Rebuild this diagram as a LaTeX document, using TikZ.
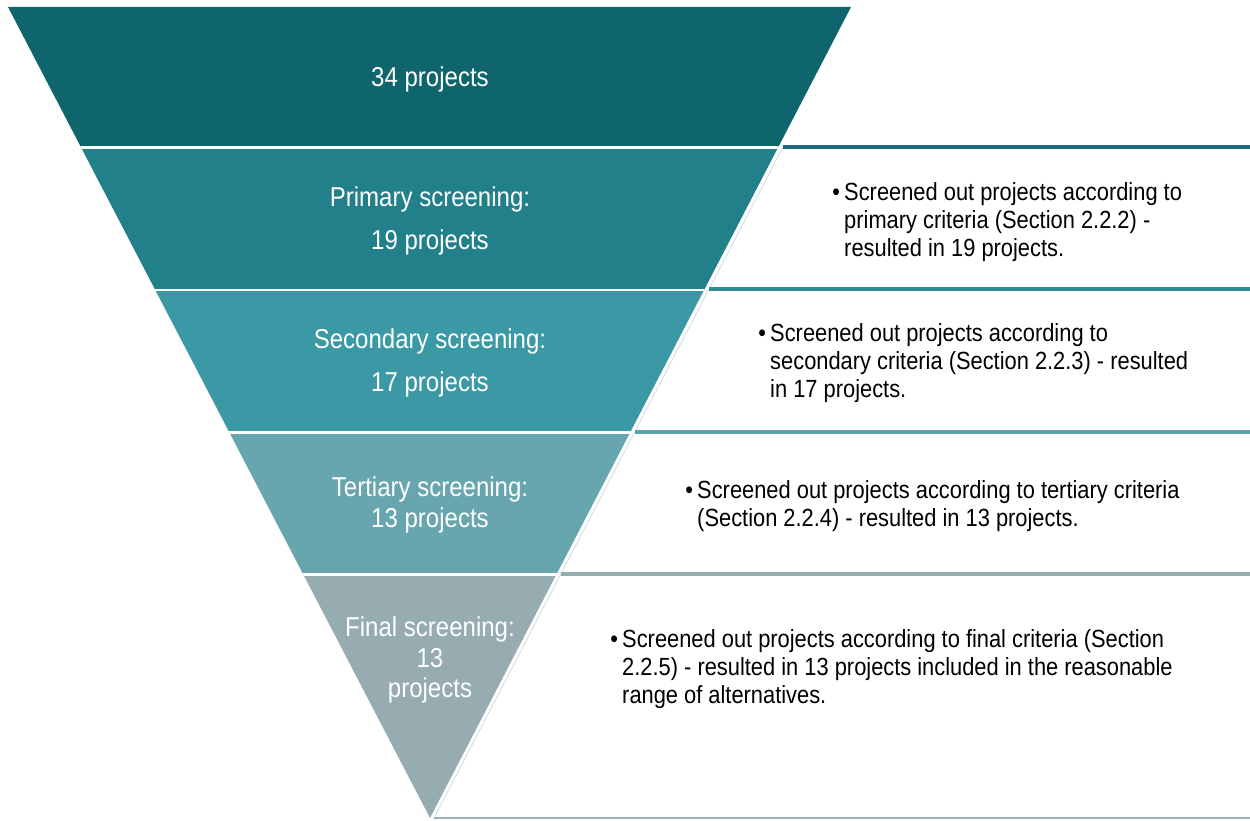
\documentclass[tikz,border=0pt]{standalone}
\usepackage{fontspec}
\setmainfont{Liberation Sans}
\newfontfamily\nf{Liberation Sans}[FakeStretch=0.88]
\definecolor{bandA}{HTML}{0E666C}
\definecolor{bandB}{HTML}{21808A}
\definecolor{bandC}{HTML}{3B99A5}
\definecolor{bandD}{HTML}{67A6AE}
\definecolor{bandE}{HTML}{96ACB0}
\definecolor{lineA}{HTML}{1C6E76}
\definecolor{lineB}{HTML}{2E8C96}
\definecolor{lineC}{HTML}{5CA3AC}
\definecolor{lineD}{HTML}{92AEB2}
\definecolor{lineE}{HTML}{9AB1B5}
\definecolor{edgegray}{HTML}{D5DEE0}
\tikzset{
  lefttext/.style={text=white, align=center, inner sep=0pt, font=\nf\fontsize{23.3}{30}\selectfont},
  righttext/.style={text=black, align=left, inner sep=0pt, anchor=west, font=\nf\fontsize{21.2}{23.9}\selectfont},
  sepline/.style={line width=2.6pt},
}
\newcommand{\bul}{\llap{•\hspace{3.5pt}}}
\begin{document}
\begin{tikzpicture}[x=0.03cm,y=-0.03cm]
\useasboundingbox (0,0) rectangle (1250,821);
% funnel
\coordinate (tl) at (8,7);
\coordinate (tr) at (851,7);
\coordinate (apex) at (430,818);
\begin{scope}
  \clip (tl) -- (tr) -- (apex) -- cycle;
  \fill[bandA] (0,0) rectangle (1250,147.5);
  \fill[bandB] (0,147.5) rectangle (1250,290);
  \fill[bandC] (0,290) rectangle (1250,432.5);
  \fill[bandD] (0,432.5) rectangle (1250,574.5);
  \fill[bandE] (0,574.5) rectangle (1250,821);
  \foreach \yy in {147.5,290,432.5,574.5}
    \draw[white, line width=2.4pt] (0,\yy) -- (1250,\yy);
\end{scope}
% right side frames
\coordinate (e1) at (783,147);
\coordinate (e2) at (709,289);
\coordinate (e3) at (635,432);
\coordinate (e4) at (561,574);
\coordinate (e5) at (434,818);
\coordinate (r1) at (1250,147);
\coordinate (r2) at (1250,289);
\coordinate (r3) at (1250,432);
\coordinate (r4) at (1250,574);
\coordinate (r5) at (1250,818);
\draw[edgegray, line width=0.8pt] (e1) -- (e5);
\draw[sepline, lineA] (e1) -- (r1);
\draw[sepline, lineB] (e2) -- (r2);
\draw[sepline, lineC] (e3) -- (r3);
\draw[sepline, lineD] (e4) -- (r4);
\draw[lineE, line width=1.8pt] (e5) -- (r5);
% left labels
\node[lefttext] (t0) at (430,79) {34 projects};
\node[lefttext] (t1) at (430,221) {Primary screening:\\[7pt]19 projects};
\node[lefttext] (t2) at (430,363) {Secondary screening:\\[7pt]17 projects};
\node[lefttext] (t3) at (430,505) {Tertiary screening:\\[-4pt]13 projects};
\node[lefttext] (t4) at (430,660) {Final screening:\\[-4pt]13\\[-4pt]projects};
% right descriptions
\node[righttext] (d1) at (844,222) {\bul Screened out projects according to\\primary criteria (Section 2.2.2) -\\resulted in 19 projects.};
\node[righttext] (d2) at (770,363) {\bul Screened out projects according to\\secondary criteria (Section 2.2.3) - resulted\\in 17 projects.};
\node[righttext] (d3) at (697,506) {\bul Screened out projects according to tertiary criteria\\(Section 2.2.4) - resulted in 13 projects.};
\node[righttext] (d4) at (622,669) {\bul Screened out projects according to final criteria (Section\\2.2.5) - resulted in 13 projects included in the reasonable\\range of alternatives.};
\end{tikzpicture}
\end{document}
